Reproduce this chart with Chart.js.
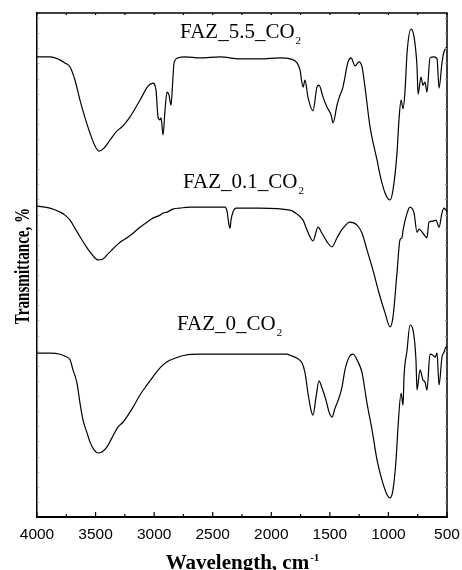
<!DOCTYPE html>
<html>
<head>
<meta charset="utf-8">
<title>FTIR spectra</title>
<script src="https://cdn.jsdelivr.net/npm/chart.js@4.4.0/dist/chart.umd.min.js"></script>
<style>
  html, body { margin: 0; padding: 0; background: #fff; }
  canvas { display: block; }
</style>
</head>
<body>
<canvas id="ftirChart" width="462" height="570"></canvas>
<script>
// wavenumber (cm-1) / transmittance (offset, a.u.)
const waveFaz55 = [4000, 3889, 3846, 3804, 3761, 3718, 3676, 3633, 3590, 3548,
  3505, 3471, 3428, 3377, 3317, 3266, 3206, 3121, 3052, 3010,
  2984, 2967, 2950, 2941, 2924, 2907, 2890, 2873, 2856, 2839,
  2830, 2796, 2737, 2608, 2438, 2267, 2096, 1926, 1840, 1780,
  1755, 1729, 1712, 1687, 1644, 1610, 1593, 1558, 1524, 1490,
  1473, 1439, 1422, 1388, 1371, 1345, 1319, 1285, 1251, 1225,
  1200, 1157, 1097, 1072, 1029, 986, 961, 927, 910, 892,
  875, 858, 841, 807, 781, 756, 747, 722, 705, 688,
  671, 645, 611, 585, 568, 543, 526, 509, 500];
const transFaz55 = [91.3, 91.3, 91.1, 90.7, 90.1, 89.3, 86.7, 82.7, 79.2, 76.2,
  73.6, 72.6, 73.2, 74.8, 76.6, 77.6, 79.4, 82.7, 85.5, 86.1,
  84.7, 79.4, 78.8, 79.2, 75.8, 80.8, 84.3, 83.7, 81.7, 87.3,
  90.1, 91.1, 91.3, 91.1, 91.3, 90.9, 90.9, 91.1, 90.9, 90.1,
  88.7, 85.3, 86.7, 83.3, 80.6, 85.3, 85.7, 83.3, 81.3, 79.8,
  78.2, 81.7, 83.1, 85.3, 87.3, 90.3, 91.1, 89.5, 90.3, 89.3,
  85.3, 77.4, 70.8, 67.9, 64.3, 62.9, 64.9, 72.2, 78.8, 82.7,
  81.0, 84.7, 92.1, 96.8, 95.2, 89.3, 83.9, 87.3, 85.7, 86.3,
  84.3, 91.1, 91.3, 90.9, 85.1, 90.1, 92.3, 93.1, 93.3];

const waveFaz01 = [4000, 3889, 3804, 3761, 3718, 3676, 3633, 3590, 3548, 3505,
  3479, 3437, 3402, 3360, 3317, 3274, 3232, 3180, 3121, 3061,
  3010, 2950, 2924, 2890, 2839, 2779, 2694, 2523, 2395, 2378,
  2361, 2352, 2344, 2327, 2301, 2096, 1840,
  1780, 1729, 1687, 1644, 1601, 1567, 1524, 1482, 1439, 1388,
  1328, 1268, 1225, 1183, 1132, 1080, 1029, 986, 961, 927,
  901, 884, 875, 841, 816, 781, 756, 739, 705, 671,
  654, 620, 594, 568, 543, 526, 509, 500];
const transFaz01 = [61.7, 61.3, 60.5, 59.9, 58.9, 57.3, 55.6, 54.0, 52.6, 51.4,
  51.0, 51.2, 52.0, 53.0, 54.0, 54.8, 55.4, 56.3, 57.5, 58.5,
  59.3, 59.9, 60.3, 60.5, 61.1, 61.3, 61.5, 61.5, 61.5, 60.7,
  57.9, 57.3, 58.9, 60.5, 61.3, 61.3, 60.9,
  60.1, 58.9, 56.5, 54.8, 57.5, 56.3, 54.6, 53.6, 55.4, 57.3,
  58.5, 57.9, 56.3, 53.0, 49.0, 44.4, 40.5, 37.7, 39.7, 48.4,
  55.0, 55.4, 56.9, 60.3, 61.5, 60.3, 56.5, 57.1, 56.3, 55.4,
  58.5, 58.7, 58.9, 57.5, 60.3, 61.3, 60.9, 60.5];

const waveFaz0 = [4000, 3889, 3804, 3761, 3718, 3693, 3659, 3633, 3607, 3573,
  3548, 3513, 3479, 3445, 3402, 3360, 3308, 3266, 3223, 3180,
  3121, 3061, 3010, 2950, 2890, 2822, 2737, 2608, 2182, 1866,
  1840,
  1780, 1738, 1712, 1687, 1661, 1644, 1618, 1593, 1567, 1533,
  1507, 1482, 1456, 1422, 1396, 1371, 1336, 1302, 1260, 1225,
  1183, 1140, 1097, 1055, 1012, 986, 961, 935, 918, 892,
  875, 867, 841, 816, 790, 765, 756, 730, 705, 688,
  671, 645, 620, 602, 585, 568, 543, 526, 509, 500];
const transFaz0 = [32.5, 32.5, 32.3, 31.9, 31.2, 29.2, 26.6, 22.6, 19.2, 16.7,
  14.9, 13.3, 12.7, 12.9, 13.9, 15.7, 17.9, 18.8, 20.2, 21.8,
  24.2, 26.2, 27.8, 29.6, 30.8, 31.5, 32.1, 32.3, 32.3, 32.3,
  32.1,
  31.5, 30.6, 28.6, 24.6, 21.2, 20.2, 23.8, 27.0, 25.6, 23.2,
  20.8, 19.8, 21.6, 23.6, 25.8, 29.2, 31.7, 32.3, 30.8, 28.6,
  22.6, 17.3, 11.3, 7.3, 4.4, 3.8, 5.4, 11.3, 17.9, 24.6,
  22.2, 27.8, 33.1, 38.1, 37.1, 31.2, 25.2, 29.2, 27.2, 26.8,
  25.2, 32.3, 32.1, 31.7, 32.5, 26.2, 31.7, 32.7, 33.7, 33.7];

const xTickValues = [4000, 3500, 3000, 2500, 2000, 1500, 1000, 500];

// sample names, written over each trace (anchor in data units)
const sampleNames = ['FAZ_5.5_CO', 'FAZ_0.1_CO', 'FAZ_0_CO'];
const nameWave = [2779, 2754, 2805];
const nameTrans = [95.0, 65.3, 37.1];

const serif = '"Liberation Serif", "Times New Roman", serif';

function toPoints(waves, trans) {
  return waves.map((w, i) => ({x: w, y: trans[i]}));
}

function spectrum(label, waves, trans) {
  return {
    label: label,
    data: toPoints(waves, trans),
    borderColor: '#000',
    borderWidth: 1.2,
    pointRadius: 0,
    fill: false,
    cubicInterpolationMode: 'monotone',
  };
}

// frame, inward ticks, axis titles and the sample names
const framePlugin = {
  id: 'frame',
  afterDraw(chart) {
    const {ctx, chartArea: a, scales: {x, y}} = chart;
    ctx.save();
    ctx.strokeStyle = '#000';
    ctx.lineWidth = 1.5;
    ctx.beginPath();
    ctx.moveTo(a.left, a.top);
    ctx.lineTo(a.right, a.top);
    ctx.lineTo(a.right, a.bottom);
    ctx.stroke();

    ctx.lineWidth = 1.2;
    for (let w = 500; w <= 4000; w += 250) {
      const px = x.getPixelForValue(w);
      const len = w % 500 === 0 ? 5 : 3;
      ctx.beginPath();
      ctx.moveTo(px, a.bottom);
      ctx.lineTo(px, a.bottom - len);
      ctx.moveTo(px, a.top);
      ctx.lineTo(px, a.top + 2);
      ctx.stroke();
    }
    ctx.strokeStyle = '#999';
    ctx.lineWidth = 1;
    for (let t = 3; t < 100; t += 3) {
      const py = Math.round(y.getPixelForValue(t)) + 0.5;
      ctx.beginPath();
      ctx.moveTo(a.left, py);
      ctx.lineTo(a.left + 2, py);
      ctx.moveTo(a.right, py);
      ctx.lineTo(a.right - 2, py);
      ctx.stroke();
    }

    ctx.fillStyle = '#000';
    // x title with superscript
    ctx.font = 'bold 21px ' + serif;
    const main = 'Wavelength, cm';
    const wMain = ctx.measureText(main).width;
    ctx.font = 'bold 11px ' + serif;
    const wSup = ctx.measureText('-1').width;
    const x0 = (a.left + a.right) / 2 - (wMain + wSup) / 2;
    ctx.textAlign = 'left';
    ctx.textBaseline = 'alphabetic';
    ctx.font = 'bold 21px ' + serif;
    ctx.fillText(main, x0, 569);
    ctx.font = 'bold 11px ' + serif;
    ctx.fillText('-1', x0 + wMain + 1, 561);

    // y title, condensed like the original
    ctx.save();
    ctx.translate(28.5, (a.top + a.bottom) / 2 + 1);
    ctx.rotate(-Math.PI / 2);
    ctx.scale(0.72, 1);
    ctx.textAlign = 'center';
    ctx.font = 'bold 21px ' + serif;
    ctx.fillText('Transmittance, %', 0, 0);
    ctx.restore();

    // sample names with subscript 2
    sampleNames.forEach((name, i) => {
      const px = x.getPixelForValue(nameWave[i]);
      const py = y.getPixelForValue(nameTrans[i]);
      ctx.font = '21px ' + serif;
      ctx.fillText(name, px, py);
      const wName = ctx.measureText(name).width;
      ctx.font = '11px ' + serif;
      ctx.fillText('2', px + wName + 1, py + 6);
    });
    ctx.restore();
  }
};

new Chart(document.getElementById('ftirChart'), {
  type: 'line',
  data: {
    datasets: [
      spectrum('FAZ_5.5_CO2', waveFaz55, transFaz55),
      spectrum('FAZ_0.1_CO2', waveFaz01, transFaz01),
      spectrum('FAZ_0_CO2', waveFaz0, transFaz0),
    ]
  },
  options: {
    responsive: false,
    animation: false,
    devicePixelRatio: 1,
    layout: {padding: {top: 13, right: 15, left: 0, bottom: 0}},
    plugins: {legend: {display: false}, tooltip: {enabled: false}},
    scales: {
      x: {
        type: 'linear',
        reverse: true,
        min: 500,
        max: 4000,
        afterBuildTicks: (s) => { s.ticks = xTickValues.map(v => ({value: v})); },
        afterFit: (s) => {
          s.height = 53;
          s.paddingLeft = 0;
          s.paddingRight = 0;
        },
        ticks: {
          color: '#000',
          font: {family: '"Liberation Sans", Arial, sans-serif', size: 15.5},
          padding: 8,
          maxRotation: 0,
          autoSkip: false,
          callback: (v) => String(v),
        },
        grid: {display: false, drawTicks: false},
        border: {display: true, color: '#000', width: 2},
      },
      y: {
        min: 0,
        max: 100,
        afterFit: (s) => { s.width = 37; },
        ticks: {display: false},
        grid: {display: false, drawTicks: false},
        border: {display: true, color: '#000', width: 1.5},
      }
    }
  },
  plugins: [framePlugin]
});
</script>
</body>
</html>
